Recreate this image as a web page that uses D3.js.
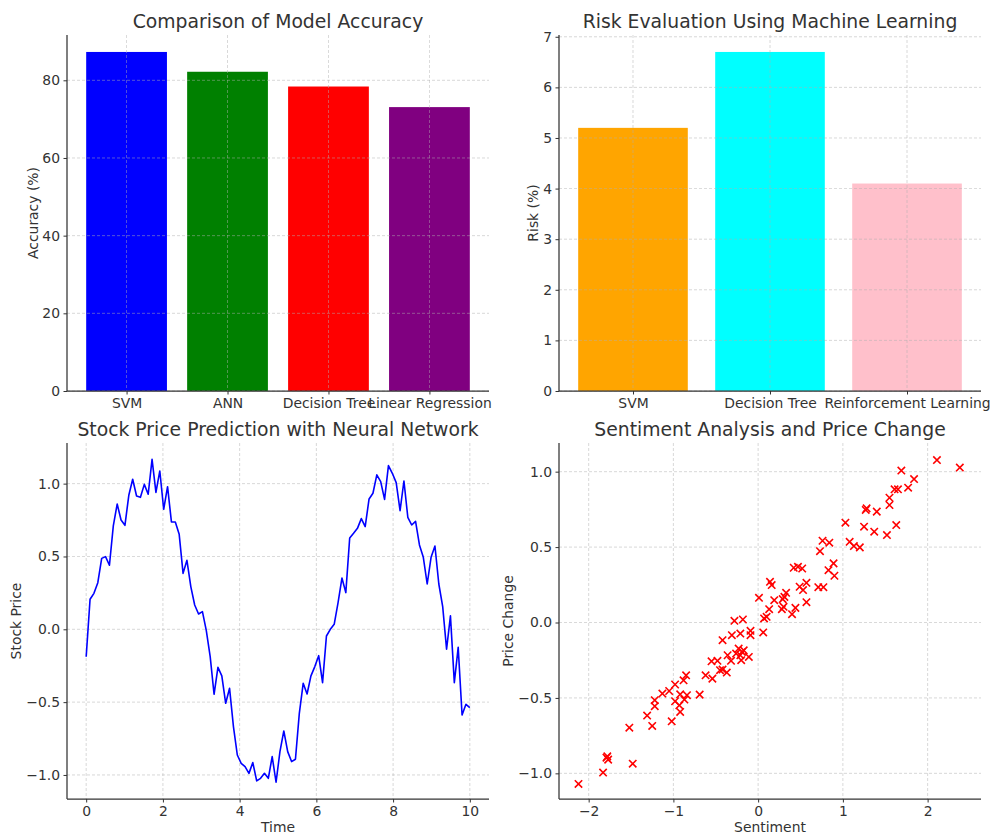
<!DOCTYPE html>
<html>
<head>
<meta charset="utf-8">
<script src="https://cdn.jsdelivr.net/npm/d3@7"></script>
<style>
  html, body { margin: 0; padding: 0; background: #fff; }
  svg { display: block; font-family: "DejaVu Sans", sans-serif; }
</style>
</head>
<body>
<svg id="chart" width="992" height="836"></svg>
<script>
// ---------- DATA ----------
const accuracyModels = ["SVM", "ANN", "Decision Tree", "Linear Regression"];
const accuracyValues = [87.3, 82.2, 78.4, 73.1];
const accuracyColors = ["blue", "green", "red", "purple"];
const accuracyTicks = [0, 20, 40, 60, 80];

const riskModels = ["SVM", "Decision Tree", "Reinforcement Learning"];
const riskValues = [5.2, 6.7, 4.1];
const riskColors = ["orange", "cyan", "pink"];
const riskTicks = [0, 1, 2, 3, 4, 5, 6, 7];

const timeStart = 0, timeEnd = 10;
const stockPrice = [
  -0.188, 0.206, 0.247, 0.32, 0.487, 0.499, 0.44, 0.71, 0.86, 0.75,
  0.714, 0.92, 1.03, 0.915, 0.906, 0.995, 0.927, 1.167, 0.94, 1.087,
  0.824, 0.979, 0.737, 0.737, 0.652, 0.384, 0.474, 0.293, 0.167, 0.105,
  0.121, -0.009, -0.188, -0.446, -0.261, -0.32, -0.508, -0.405, -0.668, -0.863,
  -0.92, -0.943, -0.989, -0.915, -1.041, -1.023, -0.989, -1.023, -0.874, -1.05,
  -0.84, -0.698, -0.84, -0.908, -0.892, -0.577, -0.371, -0.444, -0.32, -0.256,
  -0.181, -0.366, -0.046, 0.0, 0.034, 0.183, 0.352, 0.252, 0.627, 0.659,
  0.693, 0.76, 0.705, 0.895, 0.934, 1.06, 1.014, 0.892, 1.124, 1.071,
  1.007, 0.815, 1.018, 0.769, 0.716, 0.741, 0.579, 0.494, 0.311, 0.494,
  0.572, 0.311, 0.156, -0.137, 0.092, -0.366, -0.124, -0.588, -0.515, -0.538
];
const timeTicks = [0, 2, 4, 6, 8, 10];
const priceTicks = [-1.0, -0.5, 0.0, 0.5, 1.0];

const sentiment = [
  -2.12, -1.83, -1.78, -1.77, -1.79, -1.52, -1.48, -1.31, -1.25, -1.22,
  -1.22, -1.13, -1.05, -1.02, -0.98, -0.98, -0.92, -0.92, -0.93, -0.87,
  -0.84, -0.88, -0.85, -0.69, -0.62, -0.55, -0.54, -0.48, -0.45, -0.42,
  -0.42, -0.37, -0.36, -0.32, -0.31, -0.28, -0.26, -0.23, -0.21, -0.21,
  -0.19, -0.18, -0.20, -0.17, -0.11, -0.09, -0.09, 0.01, 0.06, 0.07,
  0.10, 0.13, 0.14, 0.16, 0.19, 0.28, 0.29, 0.31, 0.33, 0.30,
  0.40, 0.44, 0.42, 0.47, 0.52, 0.49, 0.53, 0.57, 0.57, 0.71,
  0.77, 0.73, 0.76, 0.84, 0.83, 0.89, 0.90, 1.03, 1.08, 1.13,
  1.20, 1.25, 1.27, 1.28, 1.40, 1.37, 1.52, 1.55, 1.55, 1.63,
  1.61, 1.65, 1.69, 1.77, 1.84, 2.11, 2.38
];
const priceChange = [
  -1.07, -0.995, -0.887, -0.909, -0.896, -0.697, -0.936, -0.617, -0.686, -0.515,
  -0.555, -0.471, -0.454, -0.655, -0.411, -0.522, -0.476, -0.593, -0.549, -0.511,
  -0.482, -0.383, -0.35, -0.478, -0.35, -0.257, -0.372, -0.254, -0.316, -0.312,
  -0.117, -0.332, -0.217, -0.254, -0.084, 0.011, -0.206, -0.173, -0.217, -0.073,
  -0.195, 0.02, -0.25, -0.184, -0.228, -0.055, -0.084, 0.164, -0.066, 0.027,
  0.038, 0.088, 0.27, 0.248, 0.148, 0.088, 0.155, 0.17, 0.197, 0.104,
  0.055, 0.097, 0.363, 0.369, 0.358, 0.237, 0.215, 0.263, 0.135, 0.234,
  0.234, 0.473, 0.542, 0.529, 0.347, 0.392, 0.31, 0.662, 0.535, 0.507,
  0.498, 0.635, 0.746, 0.757, 0.735, 0.602, 0.58, 0.779, 0.827, 0.646,
  0.883, 0.883, 1.007, 0.894, 0.951, 1.077, 1.027
];
const sentimentTicks = [-2, -1, 0, 1, 2];
const changeTicks = [-1.0, -0.5, 0.0, 0.5, 1.0];

// ---------- STYLE ----------
const textColor = "#333333";
const spineColor = "#333333";
const gridColor = "#b0b0b0";
const tickFont = "13.9px";
const titleFont = "18.8px";
const labelFont = "13.9px";

const svg = d3.select("#chart");

function panel(box) {
  return svg.append("g");
}

function drawGrid(g, xs, xt, ys, yt, box) {
  const grid = g.append("g").attr("class", "grid");
  grid.selectAll("line.gx").data(xt).join("line")
    .attr("x1", d => xs(d)).attr("x2", d => xs(d))
    .attr("y1", box.top).attr("y2", box.bottom)
    .attr("stroke", gridColor).attr("stroke-width", 0.8)
    .attr("stroke-dasharray", "3,2").attr("opacity", 0.6);
  grid.selectAll("line.gy").data(yt).join("line")
    .attr("y1", d => ys(d)).attr("y2", d => ys(d))
    .attr("x1", box.left).attr("x2", box.right)
    .attr("stroke", gridColor).attr("stroke-width", 0.8)
    .attr("stroke-dasharray", "3,2").attr("opacity", 0.6);
}

function drawAxes(g, xAxis, yAxis, box) {
  const gx = g.append("g").attr("transform", `translate(0,${box.bottom})`).call(xAxis);
  const gy = g.append("g").attr("transform", `translate(${box.left},0)`).call(yAxis);
  [gx, gy].forEach(a => {
    a.select(".domain").remove();
    a.selectAll(".tick line").attr("stroke", spineColor).attr("stroke-width", 1);
    a.selectAll(".tick text").attr("fill", textColor).style("font-size", tickFont)
      .style("font-family", "DejaVu Sans, sans-serif");
  });
  g.append("line").attr("x1", box.left).attr("x2", box.left)
    .attr("y1", box.top).attr("y2", box.bottom)
    .attr("stroke", spineColor).attr("stroke-width", 1.25);
  g.append("line").attr("x1", box.left).attr("x2", box.right)
    .attr("y1", box.bottom).attr("y2", box.bottom)
    .attr("stroke", spineColor).attr("stroke-width", 1.25);
}

function drawTitle(g, text, box, y) {
  g.append("text").attr("x", (box.left + box.right) / 2).attr("y", y)
    .attr("text-anchor", "middle").attr("fill", textColor)
    .style("font-size", titleFont).text(text);
}
function drawXLabel(g, text, box, y) {
  g.append("text").attr("x", (box.left + box.right) / 2).attr("y", y)
    .attr("text-anchor", "middle").attr("fill", textColor)
    .style("font-size", labelFont).text(text);
}
function drawYLabel(g, text, box, x) {
  g.append("text")
    .attr("transform", `translate(${x},${(box.top + box.bottom) / 2}) rotate(-90)`)
    .attr("text-anchor", "middle").attr("fill", textColor)
    .style("font-size", labelFont).text(text);
}

const minusFmt = f => d => d3.format(f)(d).replace("-", "\u2212");

// ---------- PANEL 1: Accuracy ----------
{
  const box = { left: 67, right: 489, top: 35, bottom: 391 };
  const g = panel(box);
  const n = accuracyModels.length;
  const x = d3.scaleLinear().domain([-0.59, n - 1 + 0.59]).range([box.left, box.right]);
  const ymax = d3.max(accuracyValues) * 1.05;
  const y = d3.scaleLinear().domain([0, ymax]).range([box.bottom, box.top]);
  const bw = x(0.8) - x(0);
  g.selectAll("rect").data(accuracyValues).join("rect")
    .attr("x", (d, i) => x(i) - bw / 2).attr("width", bw)
    .attr("y", d => y(d)).attr("height", d => y(0) - y(d))
    .attr("fill", (d, i) => accuracyColors[i]);
  drawGrid(g, x, d3.range(n), y, accuracyTicks, box);
  drawAxes(g,
    d3.axisBottom(x).tickValues(d3.range(n)).tickFormat(i => accuracyModels[i]).tickSize(3.5).tickPadding(3.5),
    d3.axisLeft(y).tickValues(accuracyTicks).tickFormat(d3.format("d")).tickSize(3.5).tickPadding(3.5),
    box);
  drawTitle(g, "Comparison of Model Accuracy", box, 28);
  drawYLabel(g, "Accuracy (%)", box, 38);
}

// ---------- PANEL 2: Risk ----------
{
  const box = { left: 559, right: 981, top: 35, bottom: 391 };
  const g = panel(box);
  const n = riskModels.length;
  const x = d3.scaleLinear().domain([-0.54, n - 1 + 0.54]).range([box.left, box.right]);
  const ymax = d3.max(riskValues) * 1.05;
  const y = d3.scaleLinear().domain([0, ymax]).range([box.bottom, box.top]);
  const bw = x(0.8) - x(0);
  g.selectAll("rect").data(riskValues).join("rect")
    .attr("x", (d, i) => x(i) - bw / 2).attr("width", bw)
    .attr("y", d => y(d)).attr("height", d => y(0) - y(d))
    .attr("fill", (d, i) => riskColors[i]);
  drawGrid(g, x, d3.range(n), y, riskTicks, box);
  drawAxes(g,
    d3.axisBottom(x).tickValues(d3.range(n)).tickFormat(i => riskModels[i]).tickSize(3.5).tickPadding(3.5),
    d3.axisLeft(y).tickValues(riskTicks).tickFormat(d3.format("d")).tickSize(3.5).tickPadding(3.5),
    box);
  drawTitle(g, "Risk Evaluation Using Machine Learning", box, 28);
  drawYLabel(g, "Risk (%)", box, 538);
}

// ---------- PANEL 3: Stock price line ----------
{
  const box = { left: 67, right: 489, top: 443, bottom: 799 };
  const g = panel(box);
  const nPts = stockPrice.length;
  const times = stockPrice.map((v, i) => timeStart + (timeEnd - timeStart) * i / (nPts - 1));
  const x = d3.scaleLinear().domain([-0.5, 10.5]).range([box.left, box.right]);
  const y = d3.scaleLinear().domain([-1.165, 1.279]).range([box.bottom, box.top]);
  drawGrid(g, x, timeTicks, y, priceTicks, box);
  const line = d3.line().x((d, i) => x(times[i])).y(d => y(d));
  g.append("path").datum(stockPrice).attr("d", line)
    .attr("fill", "none").attr("stroke", "blue").attr("stroke-width", 1.6)
    .attr("stroke-linejoin", "round");
  drawAxes(g,
    d3.axisBottom(x).tickValues(timeTicks).tickFormat(d3.format("d")).tickSize(3.5).tickPadding(3.5),
    d3.axisLeft(y).tickValues(priceTicks).tickFormat(minusFmt(".1f")).tickSize(3.5).tickPadding(3.5),
    box);
  drawTitle(g, "Stock Price Prediction with Neural Network", box, 436);
  drawXLabel(g, "Time", box, 832);
  drawYLabel(g, "Stock Price", box, 21);
}

// ---------- PANEL 4: Sentiment scatter ----------
{
  const box = { left: 559, right: 981, top: 443, bottom: 799 };
  const g = panel(box);
  const x = d3.scaleLinear().domain([-2.35, 2.63]).range([box.left, box.right]);
  const y = d3.scaleLinear().domain([-1.17, 1.19]).range([box.bottom, box.top]);
  drawGrid(g, x, sentimentTicks, y, changeTicks, box);
  const pts = sentiment.map((s, i) => [s, priceChange[i]]);
  const r = 3.7;
  g.selectAll("path.pt").data(pts).join("path")
    .attr("class", "pt")
    .attr("d", d => {
      const cx = x(d[0]), cy = y(d[1]);
      return `M${cx - r},${cy - r}L${cx + r},${cy + r}M${cx - r},${cy + r}L${cx + r},${cy - r}`;
    })
    .attr("stroke", "red").attr("stroke-width", 1.6).attr("fill", "none");
  drawAxes(g,
    d3.axisBottom(x).tickValues(sentimentTicks).tickFormat(minusFmt("d")).tickSize(3.5).tickPadding(3.5),
    d3.axisLeft(y).tickValues(changeTicks).tickFormat(minusFmt(".1f")).tickSize(3.5).tickPadding(3.5),
    box);
  drawTitle(g, "Sentiment Analysis and Price Change", box, 436);
  drawXLabel(g, "Sentiment", box, 832);
  drawYLabel(g, "Price Change", box, 513);
}
</script>
</body>
</html>
